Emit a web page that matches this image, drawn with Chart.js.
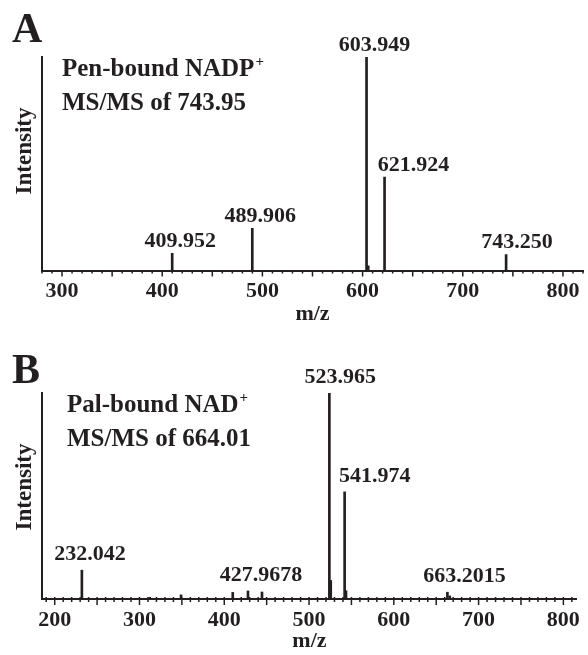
<!DOCTYPE html>
<html>
<head>
<meta charset="utf-8">
<script src="https://cdn.jsdelivr.net/npm/chart.js@4.4.0/dist/chart.umd.min.js"></script>
<style>
html,body{margin:0;padding:0;background:#fff;}
#wrap{position:relative;width:588px;height:655px;}
canvas{position:absolute;left:0;}
</style>
</head>
<body>
<div id="wrap">
<canvas id="chartA" width="588" height="328" style="top:0"></canvas>
<canvas id="chartB" width="588" height="327" style="top:328px"></canvas>
</div>
<script>
// panel A: Pen-bound NADP+, MS/MS of 743.95
const mzA = [409.952, 489.906, 603.949, 605.6, 621.924, 743.250];
const intA = [8.1, 19.7, 100, 2.2, 43.7, 7.5];
const labelA = ["409.952", "489.906", "603.949", "", "621.924", "743.250"];
const ticksA = [300, 400, 500, 600, 700, 800];

// panel B: Pal-bound NAD+, MS/MS of 664.01
const mzB = [232.042, 312, 349, 410, 427.9678, 444.5, 523.965, 525.6, 541.974, 543.6, 663.2015, 666];
const intB = [14, 0.8, 2, 3.2, 3.9, 3.4, 100, 9, 52, 4, 3.3, 1.5];
const labelB = ["232.042", "", "", "", "427.9678", "", "523.965", "", "541.974", "", "663.2015", ""];
const ticksB = [200, 300, 400, 500, 600, 700, 800];

const ink = "#231f20";
const serif = "'Liberation Serif', 'Times New Roman', serif";

const spectrumPlugin = {
    id: "spectrum",
    afterDraw(chart, args, opts) {
        const ctx = chart.ctx;
        const x = chart.scales.x, y = chart.scales.y, area = chart.chartArea;
        ctx.save();
        ctx.strokeStyle = ink;
        ctx.fillStyle = ink;

        // minor ticks every 10, longer ones every 50
        ctx.lineWidth = 1.5;
        for (let v = Math.ceil(x.min / 10) * 10; v <= x.max; v += 10) {
            const px = x.getPixelForValue(v);
            const len = v % 50 === 0 ? 6 : 3;
            ctx.beginPath();
            ctx.moveTo(px, area.bottom - opts.tickUp);
            ctx.lineTo(px, area.bottom + len);
            ctx.stroke();
        }

        // peak labels
        ctx.font = "bold 22px " + serif;
        ctx.textAlign = "center";
        ctx.textBaseline = "alphabetic";
        opts.labels.forEach((t, i) => {
            if (!t) return;
            const dx = opts.shift[t] !== undefined ? opts.shift[t] : 8;
            const px = x.getPixelForValue(opts.mz[i]) + dx;
            const py = y.getPixelForValue(opts.intensity[i]) - opts.gap;
            ctx.fillText(t, px, py);
        });

        // y axis title
        ctx.save();
        ctx.font = "bold 23px " + serif;
        ctx.translate(31, area.top + 94);
        ctx.rotate(-Math.PI / 2);
        ctx.fillText("Intensity", 0, 0);
        ctx.restore();

        // panel letter
        ctx.textAlign = "left";
        ctx.font = "bold 42px " + serif;
        ctx.fillText(opts.letter, 12, opts.letterY);

        // title lines with superscript
        ctx.font = "bold 25px " + serif;
        ctx.fillText(opts.title[0], opts.titleX, area.top + 19);
        const w = ctx.measureText(opts.title[0]).width;
        ctx.font = "bold 15px " + serif;
        ctx.fillText("+", opts.titleX + w + 1, area.top + 9);
        ctx.font = "bold 25px " + serif;
        ctx.fillText(opts.title[1], opts.titleX, area.top + 53);
        ctx.restore();
    }
};

function makeChart(id, mz, inten, labels, ticks, xmin, xmax, padTop, axisH, extra) {
    return new Chart(document.getElementById(id), {
        type: "bar",
        data: {
            datasets: [{
                data: mz.map((m, i) => ({ x: m, y: inten[i] })),
                backgroundColor: ink,
                barThickness: 2,
                grouped: false
            }]
        },
        options: {
            responsive: false,
            animation: false,
            layout: { padding: { top: padTop, right: 5, left: 0, bottom: 0 } },
            plugins: {
                legend: { display: false },
                tooltip: { enabled: false },
                spectrum: Object.assign({ mz: mz, intensity: inten, labels: labels }, extra)
            },
            scales: {
                x: {
                    type: "linear",
                    offset: false,
                    min: xmin,
                    max: xmax,
                    afterBuildTicks: s => { s.ticks = ticks.map(v => ({ value: v })); },
                    afterFit: s => { s.height = axisH; },
                    grid: { display: false, drawTicks: false },
                    border: { display: true, color: ink, width: 2 },
                    ticks: {
                        color: ink,
                        padding: 8,
                        maxRotation: 0,
                        font: { family: serif, size: 22, weight: "bold" }
                    },
                    title: {
                        display: true,
                        text: "m/z",
                        color: ink,
                        padding: 0,
                        font: { family: serif, size: 22, weight: "bold" }
                    }
                },
                y: {
                    min: 0,
                    max: 100,
                    afterFit: s => { s.width = 42; },
                    grid: { display: false, drawTicks: false },
                    border: { display: true, color: ink, width: 2 },
                    ticks: { display: false }
                }
            }
        },
        plugins: [spectrumPlugin]
    });
}

makeChart("chartA", mzA, intA, labelA, ticksA, 280, 820, 57, 57.5, {
    letter: "A", letterY: 42, titleX: 62,
    title: ["Pen-bound NADP", "MS/MS of 743.95"],
    gap: 6, tickUp: 0,
    shift: { "621.924": 29, "743.250": 11 }
});

makeChart("chartB", mzB, intB, labelB, ticksB, 185, 816, 65, 56, {
    letter: "B", letterY: 55, titleX: 67,
    title: ["Pal-bound NAD", "MS/MS of 664.01"],
    gap: 10, tickUp: 2,
    shift: { "541.974": 30, "523.965": 11, "427.9678": 13, "663.2015": 17 }
});
</script>
</body>
</html>
